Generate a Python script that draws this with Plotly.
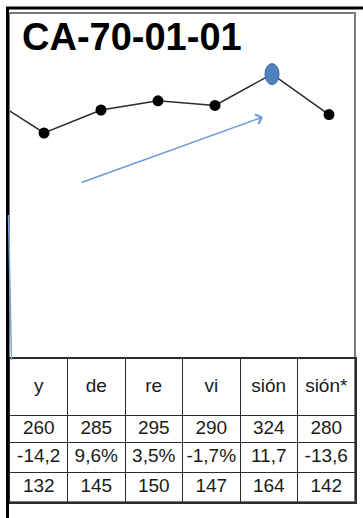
import plotly.graph_objects as go

# data
labels = ["y", "de", "re", "vi", "sión", "sión*"]
values = [260, 285, 295, 290, 324, 280]
changes = ["-14,2", "9,6%", "3,5%", "-1,7%", "11,7", "-13,6"]
third_row = [132, 145, 150, 147, 164, 142]
prev_value = 300          # point just left of the visible area (line comes in from the edge)
title_text = "CA-70-01-01"

W, H = 363, 518


def px(x):
    return x / W


def py(y):
    return 1 - y / H


idx = list(range(len(values)))
peak = values.index(max(values))

fig = go.Figure()

# line with black markers
fig.add_trace(go.Scatter(
    x=[-1] + idx, y=[prev_value] + values,
    mode="lines+markers",
    line=dict(color="#2a2a2a", width=1.5),
    marker=dict(color="black", size=11),
    hoverinfo="skip", showlegend=False,
    xaxis="x", yaxis="y",
))

# table text, one trace per row
row_centers = [28, 69.5, 98, 127.5]
for row, yc in zip([labels, values, changes, third_row], row_centers):
    fig.add_trace(go.Scatter(
        x=idx, y=[yc] * len(idx), text=[str(v) for v in row],
        mode="text", textposition="middle center",
        textfont=dict(family="Liberation Sans, Arial", size=19, color="#1a1a1a"),
        hoverinfo="skip", showlegend=False,
        xaxis="x2", yaxis="y2",
    ))

# highlighted (max) point as blue ellipse, anchored on the data
fig.add_shape(
    type="circle", xref="x", yref="y",
    xsizemode="pixel", ysizemode="pixel",
    xanchor=peak, yanchor=values[peak],
    x0=-7, x1=7, y0=-10.5, y1=10.5,
    fillcolor="#4f81bd", line=dict(color="#3b6699", width=1),
)

# frame lines
fig.add_shape(type="rect", xref="paper", yref="paper",
              x0=px(9), x1=px(355), y0=py(502), y1=py(13),
              line=dict(color="#7a7a7a", width=2), layer="below")
fig.add_shape(type="line", xref="paper", yref="paper",
              x0=px(6), x1=px(363), y0=py(8), y1=py(8),
              line=dict(color="black", width=3))
fig.add_shape(type="line", xref="paper", yref="paper",
              x0=px(7.5), x1=px(7.5), y0=py(8), y1=py(518),
              line=dict(color="black", width=3))
# stray blue connector on the left
fig.add_shape(type="line", xref="paper", yref="paper",
              x0=px(8.5), x1=px(11.5), y0=py(215), y1=py(360),
              line=dict(color="#7ea8da", width=1.5))

# blue trend arrow
fig.add_annotation(
    xref="paper", yref="paper", x=px(263), y=py(117),
    axref="pixel", ayref="pixel", ax=-183, ay=66,
    text="", showarrow=True, arrowhead=4, arrowsize=1.3,
    arrowwidth=1.5, arrowcolor="#6c9bd5",
)

# title
fig.add_annotation(
    xref="paper", yref="paper", x=px(20), y=py(37),
    xanchor="left", yanchor="middle", showarrow=False,
    text="<b>" + title_text + "</b>",
    font=dict(family="Liberation Sans, Arial", size=38, color="black"),
)

fig.update_layout(
    width=W, height=H,
    margin=dict(l=0, r=0, t=0, b=0),
    paper_bgcolor="white", plot_bgcolor="white",
    xaxis=dict(domain=[px(10), px(354)], range=[(10 - 44) / 57, (354 - 44) / 57],
               visible=False),
    yaxis=dict(domain=[py(358), py(14)],
               range=[260 - 225 / 0.92, 260 + 119 / 0.92], visible=False),
    xaxis2=dict(domain=[px(10), px(355)], range=[-0.5, 5.5],
                tickvals=[i + 0.5 for i in idx[:-1]], showticklabels=False,
                ticks="", showgrid=True, gridcolor="#2b2b2b", gridwidth=1.2,
                zeroline=False, showline=True, mirror=True,
                linecolor="#2b2b2b", linewidth=1.5, anchor="y2"),
    yaxis2=dict(domain=[py(502), py(359)], range=[142, 0],
                tickvals=[56, 83, 113], showticklabels=False, ticks="",
                showgrid=True, gridcolor="#2b2b2b", gridwidth=1.2,
                zeroline=False, showline=True, mirror=True,
                linecolor="#2b2b2b", linewidth=1.5, anchor="x2"),
)

# page body has an 8px default margin; drop it so the figure sits at 0,0
fig.write_html("out.html", config={"displayModeBar": False},
               post_script="document.body.style.margin='0';")
